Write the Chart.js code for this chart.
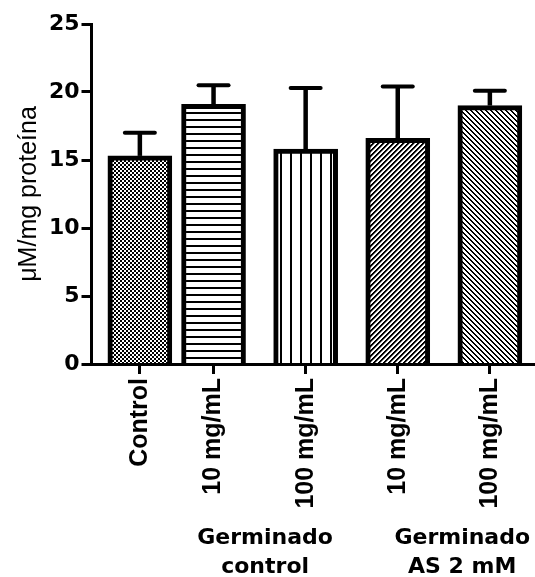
<!DOCTYPE html>
<html>
<head>
<meta charset="utf-8">
<script src="https://cdn.jsdelivr.net/npm/chart.js@4/dist/chart.umd.min.js"></script>
<style>
  html, body { margin: 0; padding: 0; background: #fff; }
  #wrap { width: 535px; height: 577px; position: relative; }
</style>
</head>
<body>
<div id="wrap"><canvas id="c"></canvas></div>
<script>
// ---- data ----
const categories = ['Control', '10 mg/mL', '100 mg/mL', '10 mg/mL', '100 mg/mL'];
const means = [15.3, 19.1, 15.8, 16.6, 19.0];
const sds = [1.7, 1.4, 4.5, 3.8, 1.1];
const yTicks = [0, 5, 10, 15, 20, 25];
const groupLines = [['Germinado', 'control'], ['Germinado', 'AS 2 mM']];
const yTitle = 'μM/mg proteína';

// slot of each bar along the x axis (Control sits a bit closer to the first group)
const slots = [0, 0.8, 1.8, 2.8, 3.8];
// centre of each group caption, in x-axis units
const groupCenters = [1.36, 3.5];

// ---- hatch fills ----
const canvas = document.getElementById('c');
const ctx = canvas.getContext('2d');

function tile(w, h, draw) {
  const c = document.createElement('canvas');
  c.width = w; c.height = h;
  const g = c.getContext('2d');
  g.fillStyle = '#fff'; g.fillRect(0, 0, w, h);
  g.fillStyle = '#000';
  draw(g, w, h);
  return ctx.createPattern(c, 'repeat');
}
// 45-degree pixel stripes; rising = "/" , otherwise "\"
function diagonal(n, dark, soft, rising) {
  return tile(n, n, (g) => {
    for (let y = 0; y < n; y++) {
      for (let x = 0; x < n; x++) {
        const v = rising ? (x + y) : (x - y + n);
        const m = v % n;
        if (m < dark) { g.fillStyle = '#000'; g.fillRect(x, y, 1, 1); }
        else if (m < dark + soft) { g.fillStyle = '#8a8a8a'; g.fillRect(x, y, 1, 1); }
      }
    }
  });
}
const fills = [
  tile(4, 4, (g) => { g.fillRect(0, 0, 2, 2); g.fillRect(2, 2, 2, 2); }),
  tile(8, 7, (g, w) => { g.fillRect(0, 0, w, 2); }),
  tile(10, 8, (g, w, h) => { g.fillRect(0, 0, 2, h); }),
  diagonal(5, 2, 1, true),
  diagonal(5, 2, 0, false)
];

// ---- error bars (mean + SD, upper side only) ----
const errorBars = {
  id: 'errorBars',
  afterDatasetsDraw(chart) {
    const y = chart.scales.y, g = chart.ctx;
    chart.getDatasetMeta(0).data.forEach((bar, i) => {
      const top = y.getPixelForValue(means[i] + sds[i]);
      g.save();
      g.strokeStyle = '#000';
      g.lineWidth = 4.5;
      g.beginPath(); g.moveTo(bar.x, bar.y); g.lineTo(bar.x, top); g.stroke();
      g.lineWidth = 4;
      g.lineCap = 'round';
      g.beginPath(); g.moveTo(bar.x - 15, top); g.lineTo(bar.x + 15, top); g.stroke();
      g.restore();
    });
  }
};

// ---- group captions under the rotated tick labels ----
const groupLabels = {
  id: 'groupLabels',
  afterDraw(chart) {
    const x = chart.scales.x, g = chart.ctx, base = chart.chartArea.bottom;
    g.save();
    g.fillStyle = '#000';
    g.font = 'bold 22px "DejaVu Sans", sans-serif';
    g.textAlign = 'center';
    g.textBaseline = 'alphabetic';
    groupLines.forEach((lines, i) => {
      const cx = x.getPixelForValue(groupCenters[i]);
      g.fillText(lines[0], cx, base + 180);
      g.fillText(lines[1], cx, base + 209);
    });
    g.restore();
  }
};

const axisGrid = { drawOnChartArea: false, drawTicks: true, tickLength: 10, tickWidth: 3, tickColor: '#000', z: 1 };
const axisBorder = { display: true, color: '#000', width: 3, z: 1 };

new Chart(ctx, {
  type: 'bar',
  data: {
    datasets: [{
      data: slots.map((x, i) => ({ x, y: means[i] })),
      backgroundColor: fills,
      borderColor: '#000',
      borderWidth: 5,
      barThickness: 64
    }]
  },
  options: {
    responsive: true,
    maintainAspectRatio: false,
    devicePixelRatio: 1,
    animation: false,
    layout: { padding: { top: 24, right: 0, bottom: 0, left: 0 } },
    plugins: { legend: { display: false }, tooltip: { enabled: false } },
    scales: {
      x: {
        type: 'linear',
        offset: false,
        min: -0.525,
        max: 4.29,
        afterBuildTicks: (s) => { s.ticks = slots.map((v) => ({ value: v })); },
        afterFit: (s) => { s.height = 213; },
        grid: Object.assign({ offset: false }, axisGrid),
        border: axisBorder,
        ticks: {
          autoSkip: false,
          minRotation: 90,
          maxRotation: 90,
          padding: 4,
          color: '#000',
          font: { family: '"Liberation Sans", Arial, sans-serif', size: 25, weight: 'bold' },
          callback: (v, i) => categories[i]
        }
      },
      y: {
        min: 0,
        max: 25,
        afterBuildTicks: (s) => { s.ticks = yTicks.map((v) => ({ value: v })); },
        afterFit: (s) => { s.width = 91.5; },
        grid: axisGrid,
        border: axisBorder,
        ticks: {
          padding: 2,
          color: '#000',
          font: { family: '"DejaVu Sans", sans-serif', size: 22, weight: 'bold' }
        },
        title: {
          display: true,
          text: yTitle,
          color: '#000',
          font: { family: '"Liberation Sans", Arial, sans-serif', size: 25, weight: 'normal' },
          padding: { top: 14, bottom: 0 }
        }
      }
    }
  },
  plugins: [errorBars, groupLabels]
});
</script>
</body>
</html>
